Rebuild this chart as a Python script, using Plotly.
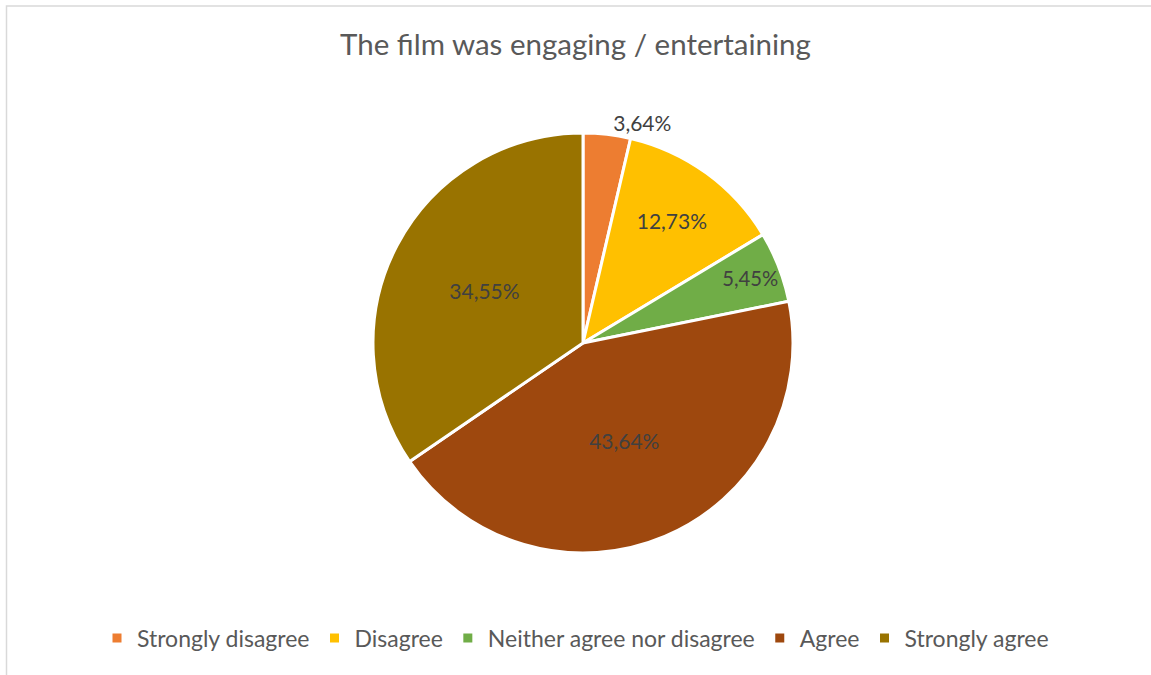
import plotly.graph_objects as go

categories = ["Strongly disagree", "Disagree", "Neither agree nor disagree", "Agree", "Strongly agree"]
values = [3.64, 12.73, 5.45, 43.64, 34.55]
colors = ["#ED7D31", "#FFC000", "#70AD47", "#9E480E", "#997300"]
positions = ["outside", "inside", "inside", "inside", "inside"]

W, H = 1151, 675
cx, cy, r = 583, 343, 210

fig = go.Figure(go.Pie(
    labels=categories,
    values=values,
    sort=False,
    direction="clockwise",
    rotation=0,
    marker=dict(colors=colors, line=dict(color="white", width=3)),
    textposition=positions,
    texttemplate="%{value:.2f}%",
    insidetextorientation="horizontal",
    textfont=dict(family="Lato", size=21, color="#404040"),
    outsidetextfont=dict(family="Lato", size=21, color="#404040"),
    hoverinfo="label+percent",
    domain=dict(x=[(cx - r) / W, (cx + r) / W], y=[(H - cy - r) / H, (H - cy + r) / H]),
))

fig.update_layout(
    width=W, height=H,
    margin=dict(l=0, r=0, t=0, b=0),
    paper_bgcolor="white",
    separators=", ",
    font=dict(family="Lato", color="#595959"),
    title=dict(text="The film was engaging / entertaining", x=0.5, xanchor="center",
               y=1 - 45 / H, yanchor="middle",
               font=dict(family="Lato", size=29.5, color="#595959")),
    legend=dict(orientation="h", x=0.5, xanchor="center", y=(H - 638) / H, yanchor="middle",
                font=dict(family="Lato", size=23, color="#595959"), itemwidth=30,
                traceorder="normal"),
    shapes=[dict(type="rect", xref="paper", yref="paper", x0=6.5 / W, x1=1.02, y0=-0.02, y1=1 - 6 / H,
                 line=dict(color="#D9D9D9", width=1.5), layer="below")],
)

fig.write_html("out.html")
